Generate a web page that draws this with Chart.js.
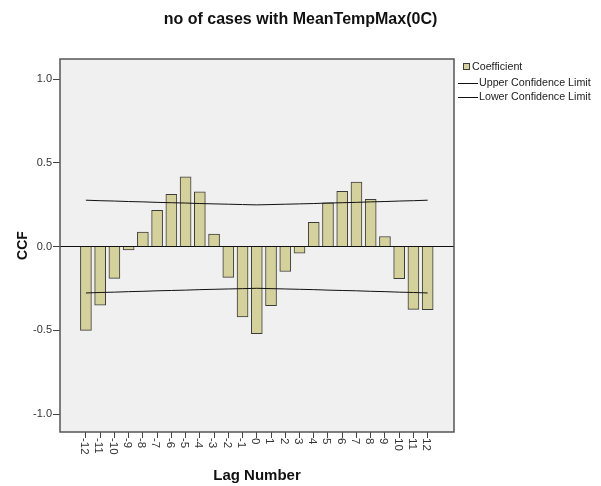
<!DOCTYPE html>
<html>
<head>
<meta charset="utf-8">
<script src="https://cdn.jsdelivr.net/npm/chart.js@4/dist/chart.umd.min.js"></script>
<style>
  body { margin: 0; background: #fff; }
  canvas { display: block; }
</style>
</head>
<body>
<canvas id="c" width="601" height="486"></canvas>
<script>
'use strict';

// lag numbers on the x axis
const lags = [-12, -11, -10, -9, -8, -7, -6, -5, -4, -3, -2, -1, 0, 1, 2, 3, 4, 5, 6, 7, 8, 9, 10, 11, 12];
// cross correlation coefficient
const ccf = [-0.50, -0.35, -0.19, -0.02, 0.086, 0.217, 0.312, 0.417, 0.327, 0.074, -0.184, -0.42, -0.52,
             -0.353, -0.149, -0.04, 0.145, 0.262, 0.33, 0.385, 0.282, 0.06, -0.192, -0.375, -0.377];
// confidence limits
const upper = [0.277, 0.274, 0.272, 0.269, 0.267, 0.264, 0.262, 0.260, 0.257, 0.255, 0.253, 0.251, 0.249,
               0.251, 0.253, 0.255, 0.257, 0.260, 0.262, 0.264, 0.267, 0.269, 0.272, 0.274, 0.277];
const lower = [-0.277, -0.274, -0.272, -0.269, -0.267, -0.264, -0.262, -0.260, -0.257, -0.255, -0.253, -0.251, -0.249,
               -0.251, -0.253, -0.255, -0.257, -0.260, -0.262, -0.264, -0.267, -0.269, -0.272, -0.274, -0.277];
const yTicks = [-1.0, -0.5, 0.0, 0.5, 1.0];

const FONT = 'Liberation Sans, Arial, Helvetica, sans-serif';
const BAR_FILL = '#d5d19b';
const BAR_EDGE = '#3c3c3c';

function pts(ys) {
    return lags.map((x, i) => ({ x: x, y: ys[i] }));
}

/**
 * фон, рамка, подписи оси x и легенда
 */
const decor = {
    id: 'decor',
    beforeDraw(chart) {
        const ctx = chart.ctx;
        const a = chart.chartArea;
        ctx.save();
        ctx.fillStyle = '#fff';
        ctx.fillRect(0, 0, chart.width, chart.height);
        ctx.fillStyle = '#f0f0f0';
        ctx.fillRect(a.left, a.top, a.right - a.left, a.bottom - a.top);
        ctx.restore();
    },
    afterDraw(chart) {
        const ctx = chart.ctx;
        const a = chart.chartArea;
        const xs = chart.scales.x;
        ctx.save();
        // рамка
        ctx.strokeStyle = '#555';
        ctx.lineWidth = 1.5;
        ctx.strokeRect(a.left, a.top, a.right - a.left, a.bottom - a.top);

        // подписи x, повернутые по часовой
        ctx.fillStyle = '#333';
        ctx.font = '11.5px ' + FONT;
        ctx.textAlign = 'left';
        ctx.textBaseline = 'middle';
        lags.forEach(v => {
            const px = xs.getPixelForValue(v);
            ctx.save();
            ctx.translate(px - 1.5, a.bottom + 6);
            ctx.rotate(Math.PI / 2);
            ctx.fillText(String(v), 0, 0);
            ctx.restore();
        });

        // легенда
        ctx.fillStyle = BAR_FILL;
        ctx.fillRect(463, 63, 7, 7);
        ctx.strokeStyle = BAR_EDGE;
        ctx.lineWidth = 1;
        ctx.strokeRect(463.5, 63.5, 6, 6);

        ctx.strokeStyle = '#111';
        ctx.beginPath();
        ctx.moveTo(458, 83.5);
        ctx.lineTo(478, 83.5);
        ctx.moveTo(458, 97.5);
        ctx.lineTo(478, 97.5);
        ctx.stroke();

        ctx.fillStyle = '#222';
        ctx.font = '10.7px ' + FONT;
        ctx.textBaseline = 'middle';
        ctx.fillText(chart.data.datasets[0].label, 472, 67);
        ctx.fillText(chart.data.datasets[1].label, 479, 83);
        ctx.fillText(chart.data.datasets[2].label, 479, 97);
        ctx.restore();
    }
};

const chart = new Chart(document.getElementById('c'), {
    data: {
        datasets: [
            {
                type: 'bar',
                label: 'Coefficient',
                data: pts(ccf),
                backgroundColor: BAR_FILL,
                borderColor: BAR_EDGE,
                borderWidth: 1,
                barThickness: 11,
                order: 2
            },
            {
                type: 'line',
                label: 'Upper Confidence Limit',
                data: pts(upper),
                borderColor: '#111',
                borderWidth: 1,
                pointRadius: 0,
                tension: 0,
                order: 1
            },
            {
                type: 'line',
                label: 'Lower Confidence Limit',
                data: pts(lower),
                borderColor: '#111',
                borderWidth: 1,
                pointRadius: 0,
                tension: 0,
                order: 1
            }
        ]
    },
    options: {
        responsive: false,
        animation: false,
        devicePixelRatio: 1,
        layout: { padding: 0 },
        plugins: {
            legend: { display: false },
            tooltip: { enabled: false },
            title: {
                display: true,
                text: 'no of cases with MeanTempMax(0C)',
                color: '#111',
                font: { family: FONT, size: 16, weight: 'bold' },
                padding: { top: 10, bottom: 29.8 }
            }
        },
        scales: {
            x: {
                type: 'linear',
                min: -13.82,
                max: 13.85,
                offset: false,
                afterBuildTicks: s => { s.ticks = lags.map(v => ({ value: v })); },
                afterFit: s => { s.height = 54; },
                ticks: { display: false },
                grid: {
                    offset: false,
                    drawOnChartArea: false,
                    color: 'transparent',
                    tickColor: '#444',
                    tickLength: 6
                },
                border: { display: false },
                title: {
                    display: true,
                    text: 'Lag Number',
                    color: '#111',
                    font: { family: FONT, size: 15, weight: 'bold' },
                    padding: { top: 0, bottom: 1 }
                }
            },
            y: {
                type: 'linear',
                min: -1.107,
                max: 1.12,
                afterBuildTicks: s => { s.ticks = yTicks.map(v => ({ value: v })); },
                afterFit: s => { s.width = 60; },
                ticks: {
                    color: '#333',
                    font: { family: FONT, size: 11 },
                    padding: 1,
                    callback: v => v.toFixed(1)
                },
                grid: {
                    color: c => (c.tick && c.tick.value === 0) ? '#111' : 'transparent',
                    tickColor: '#444',
                    tickLength: 7,
                    lineWidth: 1
                },
                border: { display: false },
                title: {
                    display: true,
                    text: 'CCF',
                    color: '#111',
                    font: { family: FONT, size: 14, weight: 'bold' },
                    padding: { top: 14.6, bottom: 0 }
                }
            },
            yr: {
                type: 'linear',
                position: 'right',
                display: true,
                afterFit: s => { s.width = 147; },
                ticks: { display: false },
                grid: { display: false },
                border: { display: false }
            }
        }
    },
    plugins: [decor]
});
</script>
</body>
</html>
